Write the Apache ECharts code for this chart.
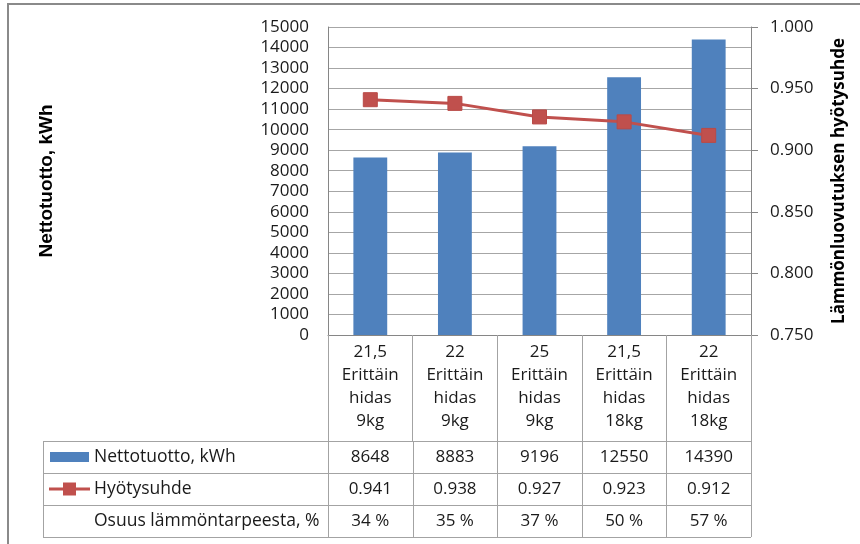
<!DOCTYPE html>
<html>
<head>
<meta charset="utf-8">
<script src="https://cdn.jsdelivr.net/npm/echarts@6/dist/echarts.min.js"></script>
<style>
  html, body { margin: 0; padding: 0; background: #fff; }
  #chart { width: 860px; height: 544px; }
</style>
</head>
<body>
<div id="chart"></div>
<script>
// Test cases: setpoint temperature, drying speed, load size
const categories = [
  '21,5\nErittäin\nhidas\n9kg',
  '22\nErittäin\nhidas\n9kg',
  '25\nErittäin\nhidas\n9kg',
  '21,5\nErittäin\nhidas\n18kg',
  '22\nErittäin\nhidas\n18kg'
];
// Net yield, kWh
const nettotuotto = [8648, 8883, 9196, 12550, 14390];
// Heat-transfer efficiency
const hyotysuhde = [0.941, 0.938, 0.927, 0.923, 0.912];
// Share of heat demand, %
const osuus = [34, 35, 37, 50, 57];

const seriesNames = ['Nettotuotto, kWh', 'Hyötysuhde', 'Osuus lämmöntarpeesta, %'];
const leftAxisName = 'Nettotuotto, kWh';
const rightAxisName = 'Lämmönluovutuksen hyötysuhde';

// Layout
const gridL = 328, gridR = 751, gridT = 27, gridB = 335;
const catW = (gridR - gridL) / categories.length;
const tableL = 43;
const rowTops = [441, 473, 505, 537];
const rowMid = i => (rowTops[i] + rowTops[i + 1]) / 2;

const FONT = '"Open Sans", sans-serif';
const TXT = '#1a1a1a';
const AXIS = '#868686';
const TABLE = '#a3a3a3';
const BLUE = '#4F81BD';
const RED = '#C0504D';

// Data table rows drawn as extra category axes carrying the row values
const tableRows = [
  nettotuotto.map(v => String(v)),
  hyotysuhde.map(v => v.toFixed(3)),
  osuus.map(v => v + ' %')
];
const rowAxes = tableRows.map((vals, r) => ({
  type: 'category',
  gridIndex: 0,
  position: 'bottom',
  offset: rowMid(r) - gridB,
  data: categories,
  axisLine: { show: false },
  axisTick: { show: false },
  splitLine: { show: false },
  axisLabel: {
    margin: 0,
    verticalAlign: 'middle',
    fontFamily: FONT,
    fontSize: 17,
    color: TXT,
    interval: 0,
    formatter: (v, i) => vals[i]
  }
}));

// Table frame
const graphics = [];
const line = (x1, y1, x2, y2, color, w) => ({
  type: 'line',
  silent: true,
  shape: { x1, y1, x2, y2 },
  style: { stroke: color, lineWidth: w || 1 }
});
rowTops.forEach(y => graphics.push(line(tableL, y + 0.5, gridR, y + 0.5, TABLE)));
const colXs = [tableL];
for (let i = 0; i <= categories.length; i++) colXs.push(Math.round(gridL + i * catW));
colXs.forEach(x => graphics.push(line(x + 0.5, rowTops[0], x + 0.5, rowTops[3], TABLE)));

// Row labels with legend keys
seriesNames.forEach((name, r) => {
  graphics.push({
    type: 'text',
    silent: true,
    style: {
      x: 94, y: rowMid(r), text: name,
      fontFamily: FONT, fontSize: 17.5, fill: TXT,
      textVerticalAlign: 'middle', verticalAlign: 'middle'
    }
  });
});
graphics.push({
  type: 'rect', silent: true,
  shape: { x: 50, y: rowMid(0) - 5, width: 39, height: 10 },
  style: { fill: BLUE }
});
graphics.push(line(49, rowMid(1), 90, rowMid(1), RED, 3));
graphics.push({
  type: 'rect', silent: true,
  shape: { x: 63, y: rowMid(1) - 6.5, width: 13, height: 13 },
  style: { fill: RED }
});

// Outer chart frame
graphics.push({
  type: 'rect', silent: true,
  shape: { x: 8, y: 4, width: 900, height: 600 },
  style: { fill: null, stroke: '#8a8a8a', lineWidth: 2 }
});

const chart = echarts.init(document.getElementById('chart'), null, { renderer: 'canvas' });
chart.setOption({
  animation: false,
  backgroundColor: '#fff',
  grid: { left: gridL, top: gridT, width: gridR - gridL, height: gridB - gridT, containLabel: false },
  xAxis: [{
    type: 'category',
    data: categories,
    position: 'bottom',
    axisLine: { show: true, lineStyle: { color: AXIS, width: 1 } },
    axisTick: { show: true, length: rowTops[0] - gridB, lineStyle: { color: TABLE } },
    axisLabel: {
      interval: 0,
      margin: 6,
      lineHeight: 23,
      fontFamily: FONT,
      fontSize: 17,
      color: TXT
    }
  }].concat(rowAxes),
  yAxis: [{
    type: 'value',
    min: 0, max: 15000, interval: 1000,
    position: 'left',
    name: leftAxisName,
    nameLocation: 'middle',
    nameRotate: 90,
    nameGap: 272,
    nameTextStyle: { fontFamily: '"Liberation Sans", Arial, sans-serif', fontWeight: 'bold', fontSize: 19, color: '#000' },
    axisLine: { show: true, lineStyle: { color: AXIS } },
    axisTick: { show: false },
    splitLine: { show: true, lineStyle: { color: '#a6a6a6' } },
    axisLabel: { margin: 19, fontFamily: FONT, fontSize: 17, color: TXT, formatter: v => String(v) }
  }, {
    type: 'value',
    min: 0.75, max: 1.0, interval: 0.05,
    position: 'right',
    name: rightAxisName,
    nameLocation: 'middle',
    nameRotate: 90,
    nameGap: 80,
    nameTextStyle: { fontFamily: FONT, fontWeight: 'bold', fontSize: 17, color: '#000' },
    axisLine: { show: true, lineStyle: { color: AXIS } },
    axisTick: { show: true, inside: false, length: 7, lineStyle: { color: AXIS } },
    splitLine: { show: false },
    axisLabel: { margin: 19, fontFamily: FONT, fontSize: 17, color: TXT, formatter: v => v.toFixed(3) }
  }],
  series: [{
    name: seriesNames[0],
    type: 'bar',
    xAxisIndex: 0,
    yAxisIndex: 0,
    data: nettotuotto,
    barWidth: '40%',
    itemStyle: { color: BLUE }
  }, {
    name: seriesNames[1],
    type: 'line',
    xAxisIndex: 0,
    yAxisIndex: 1,
    data: hyotysuhde,
    symbol: 'rect',
    symbolSize: 14,
    lineStyle: { color: RED, width: 3 },
    itemStyle: { color: RED, borderColor: '#B94A47', borderWidth: 1 },
    z: 5
  }],
  graphic: graphics
});
</script>
</body>
</html>
